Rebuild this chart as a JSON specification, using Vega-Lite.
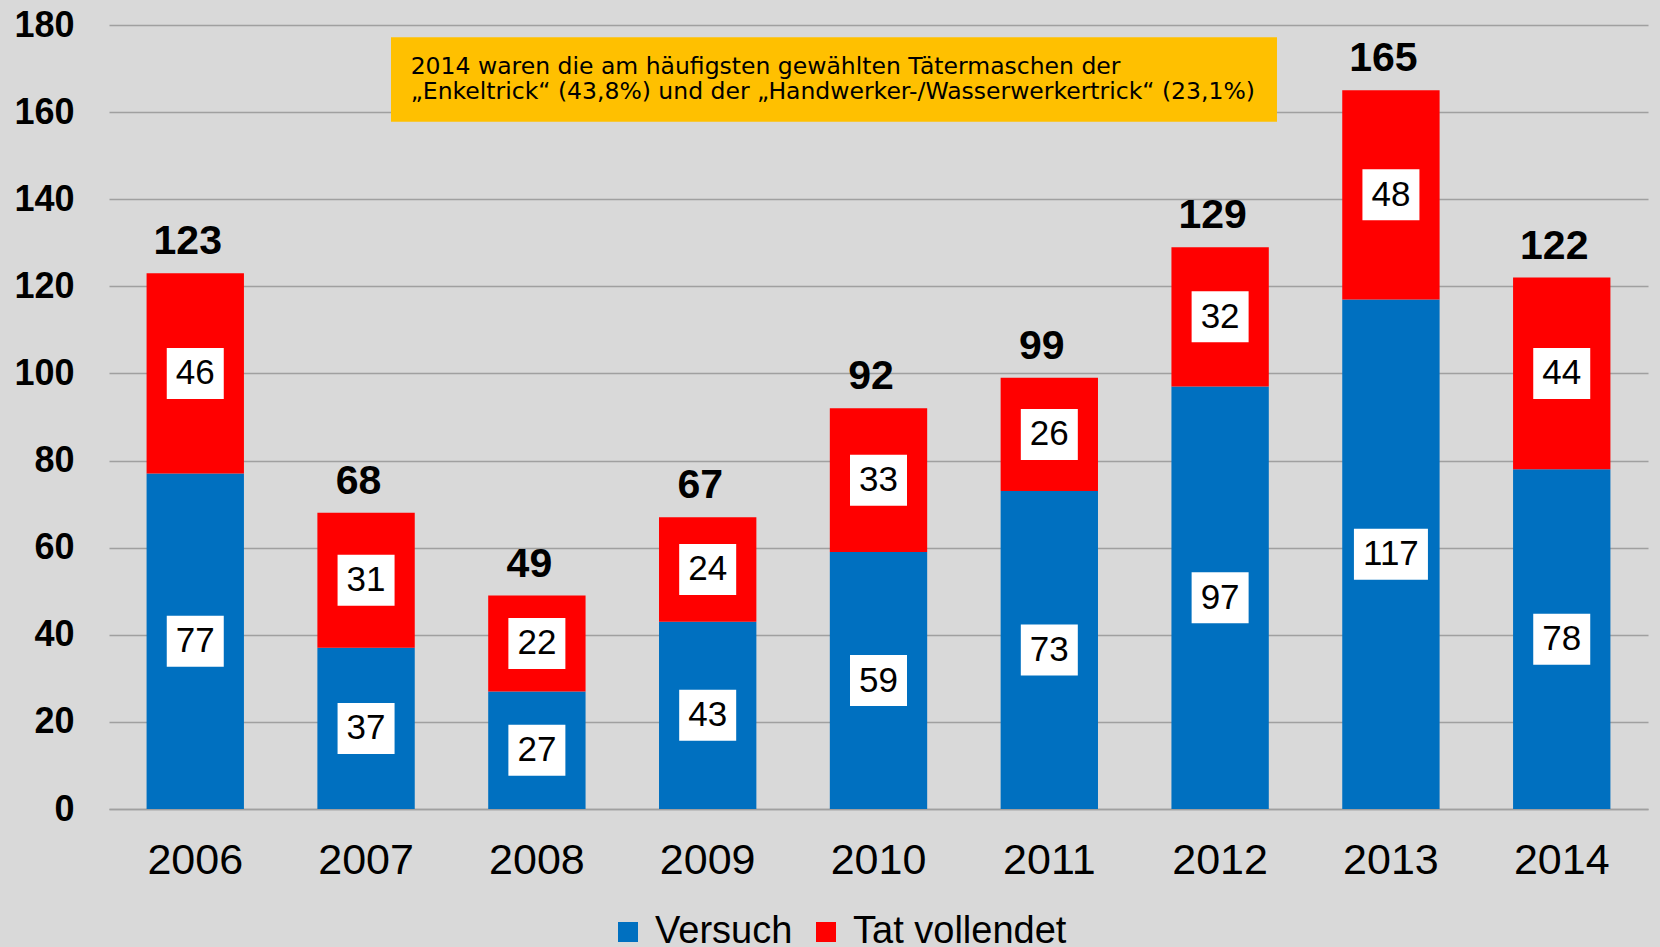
{
  "$schema": "https://vega.github.io/schema/vega-lite/v6.json",
  "width": 1539,
  "height": 784,
  "autosize": {"type": "none"},
  "padding": {"left": 109, "top": 25, "right": 12, "bottom": 138},
  "background": "#D9D9D9",
  "config": {"view": {"stroke": null}, "font": "Liberation Sans"},
  "layer": [
    {
      "data": {
        "values": [
          {"jahr": "2006", "typ": "Versuch", "wert": 77},
          {"jahr": "2006", "typ": "Tat vollendet", "wert": 46},
          {"jahr": "2007", "typ": "Versuch", "wert": 37},
          {"jahr": "2007", "typ": "Tat vollendet", "wert": 31},
          {"jahr": "2008", "typ": "Versuch", "wert": 27},
          {"jahr": "2008", "typ": "Tat vollendet", "wert": 22},
          {"jahr": "2009", "typ": "Versuch", "wert": 43},
          {"jahr": "2009", "typ": "Tat vollendet", "wert": 24},
          {"jahr": "2010", "typ": "Versuch", "wert": 59},
          {"jahr": "2010", "typ": "Tat vollendet", "wert": 33},
          {"jahr": "2011", "typ": "Versuch", "wert": 73},
          {"jahr": "2011", "typ": "Tat vollendet", "wert": 26},
          {"jahr": "2012", "typ": "Versuch", "wert": 97},
          {"jahr": "2012", "typ": "Tat vollendet", "wert": 32},
          {"jahr": "2013", "typ": "Versuch", "wert": 117},
          {"jahr": "2013", "typ": "Tat vollendet", "wert": 48},
          {"jahr": "2014", "typ": "Versuch", "wert": 78},
          {"jahr": "2014", "typ": "Tat vollendet", "wert": 44}
        ]
      },
      "transform": [
        {"calculate": "indexof(['Versuch','Tat vollendet'], datum.typ)", "as": "ord"},
        {"stack": "wert", "groupby": ["jahr"], "sort": [{"field": "ord", "order": "ascending"}], "as": ["y0", "y1"]},
        {"calculate": "(datum.y0 + datum.y1) / 2", "as": "mid"},
        {"calculate": "toString(length(toString(datum.wert)))", "as": "stellen"}
      ],
      "layer": [
        {
          "mark": {"type": "bar"},
          "encoding": {
            "x": {
              "field": "jahr", "type": "nominal", "title": null,
              "scale": {"paddingInner": 0.43, "paddingOuter": 0.22},
              "axis": {
                "labelAngle": 0, "labelFontSize": 43, "labelColor": "#000000",
                "labelFont": "Liberation Sans", "labelPadding": 30,
                "ticks": false, "tickSize": 0, "domain": true,
                "domainColor": "#A0A0A0", "domainWidth": 1.5, "grid": false
              }
            },
            "y": {
              "field": "y1", "type": "quantitative", "title": null,
              "scale": {"domain": [0, 180]},
              "axis": {
                "values": [0, 20, 40, 60, 80, 100, 120, 140, 160, 180],
                "labelFontSize": 36, "labelFontWeight": "bold", "labelColor": "#000000",
                "labelFont": "Liberation Sans", "labelPadding": 35,
                "ticks": false, "tickSize": 0, "domain": false,
                "grid": true, "gridColor": "#A0A0A0", "gridWidth": 1.5
              }
            },
            "y2": {"field": "y0"},
            "color": {
              "field": "typ", "type": "nominal",
              "scale": {"domain": ["Versuch", "Tat vollendet"], "range": ["#0070C0", "#FF0000"]},
              "legend": {
                "orient": "none", "legendX": 500, "legendY": 888, "direction": "horizontal",
                "title": null, "symbolType": "square", "symbolSize": 400, "symbolStrokeWidth": 0,
                "labelFontSize": 38, "labelFont": "Liberation Sans", "labelColor": "#000000",
                "labelOffset": 8, "columnPadding": 14, "labelLimit": 0
              }
            }
          }
        },
        {
          "mark": {"type": "point", "filled": true, "color": "#FFFFFF", "size": 4, "opacity": 1, "strokeWidth": 0},
          "encoding": {
            "x": {"field": "jahr", "type": "nominal", "title": null},
            "y": {"field": "mid", "type": "quantitative", "title": null},
            "shape": {
              "field": "stellen", "type": "nominal", "legend": null,
              "scale": {"domain": ["2", "3"], "range": ["M-28.5,-25.5H28.5V25.5H-28.5Z", "M-37,-25.5H37V25.5H-37Z"]}
            }
          }
        },
        {
          "mark": {"type": "text", "fontSize": 35, "color": "#000000", "font": "Liberation Sans", "baseline": "middle", "align": "center"},
          "encoding": {
            "x": {"field": "jahr", "type": "nominal", "title": null},
            "y": {"field": "mid", "type": "quantitative", "title": null},
            "text": {"field": "wert", "type": "quantitative"}
          }
        },
        {
          "transform": [{"aggregate": [{"op": "max", "field": "y1", "as": "total"}], "groupby": ["jahr"]}],
          "mark": {"type": "text", "fontSize": 41, "fontWeight": "bold", "color": "#000000", "font": "Liberation Sans", "baseline": "alphabetic", "align": "center", "dy": -19, "dx": -7.5},
          "encoding": {
            "x": {"field": "jahr", "type": "nominal", "title": null},
            "y": {"field": "total", "type": "quantitative", "title": null},
            "text": {"field": "total", "type": "quantitative"}
          }
        }
      ]
    },
    {
      "data": {"values": [{"note": "2014"}]},
      "layer": [
        {
          "mark": {"type": "rect", "color": "#FFC000"},
          "encoding": {
            "x": {"datum": "2007", "type": "nominal", "bandPosition": 0.756, "title": null},
            "x2": {"datum": "2012", "bandPosition": 1.084},
            "y": {"datum": 177.2, "type": "quantitative", "title": null},
            "y2": {"datum": 157.8}
          }
        },
        {
          "mark": {
            "type": "text", "align": "left", "baseline": "alphabetic", "fontSize": 23.5, "lineHeight": 24.5,
            "font": "DejaVu Sans", "color": "#000000",
            "text": ["2014 waren die am häufigsten gewählten Tätermaschen der", "\u00a0„Enkeltrick“ (43,8%) und der „Handwerker-/Wasserwerkertrick“ (23,1%)"]
          },
          "encoding": {
            "x": {"datum": "2007", "type": "nominal", "bandPosition": 0.958, "title": null},
            "y": {"datum": 168.75, "type": "quantitative", "title": null}
          }
        }
      ]
    }
  ]
}
